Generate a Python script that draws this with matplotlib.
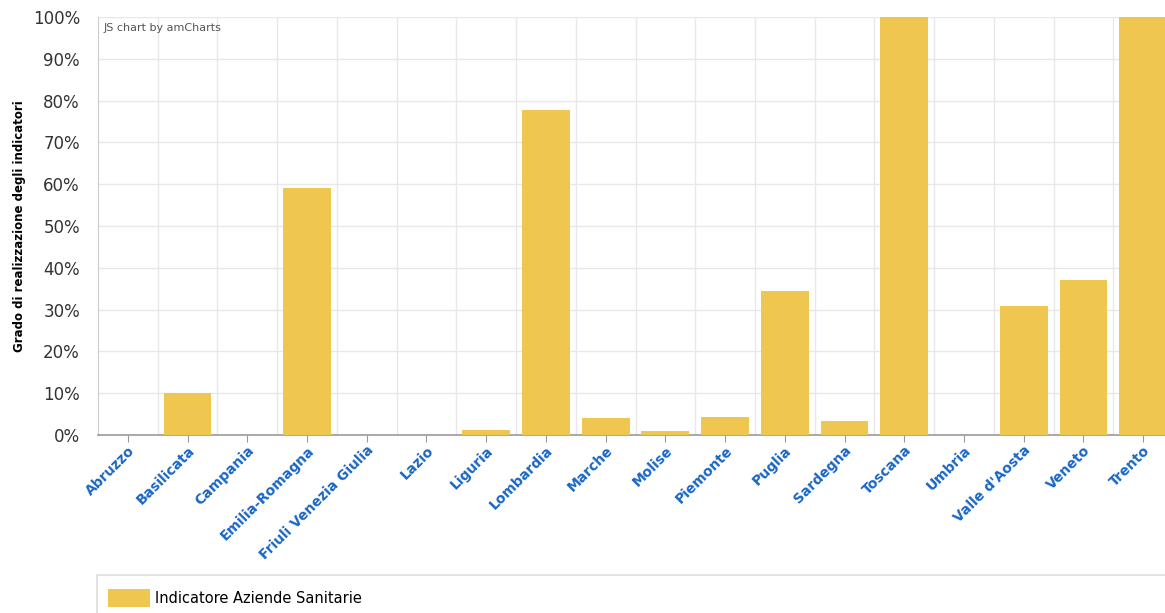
import matplotlib
matplotlib.use("Agg")
import matplotlib.pyplot as plt
from matplotlib.patches import Rectangle
import numpy as np

regions = [
    "Abruzzo", "Basilicata", "Campania", "Emilia-Romagna", "Friuli Venezia Giulia",
    "Lazio", "Liguria", "Lombardia", "Marche", "Molise", "Piemonte", "Puglia",
    "Sardegna", "Toscana", "Umbria", "Valle d'Aosta", "Veneto", "Trento",
]
values = [0, 10.0, 0, 59.1, 0, 0, 1.2, 77.8, 4.1, 1.0, 4.3, 34.4, 3.3, 100, 0, 30.9, 37.1, 100]
y_ticks = list(range(0, 101, 10))
series_name = "Indicatore Aziende Sanitarie"

BAR = "#EEC650"
GRID = "#e8e8e8"
LABEL_BLUE = "#1a66c4"

fig = plt.figure(figsize=(11.65, 6.13), dpi=100)
# plot area runs past the right edge, as in the cropped original
ax = fig.add_axes([98 / 1165, 178 / 613, 1075 / 1165, 418 / 613])

x = np.arange(len(regions))
bars = ax.bar(x, values, width=0.8, color=BAR, label=series_name, zorder=3)

ax.set_xlim(-0.5, len(regions) - 0.5)
ax.set_ylim(0, 100)
ax.set_yticks(y_ticks)
ax.set_yticklabels([f"{v}%" for v in y_ticks], fontsize=12, color="#333333")
ax.tick_params(axis="y", length=0, pad=13)

ax.set_xticks(x)
ax.set_xticklabels(regions, rotation=45, ha="right", rotation_mode="anchor",
                   fontsize=10, fontweight="bold", color=LABEL_BLUE)
ax.tick_params(axis="x", length=5, color="#999999", pad=1)

# grid: horizontal at ticks, vertical at category boundaries
for v in y_ticks[1:]:
    ax.axhline(v, color=GRID, lw=1, zorder=1)
for b in np.arange(0.5, len(regions) - 0.5, 1):
    ax.axvline(b, color=GRID, lw=1, zorder=1)

for side in ("top", "right"):
    ax.spines[side].set_visible(False)
ax.spines["left"].set_color("#cccccc")
ax.spines["bottom"].set_color("#999999")
ax.spines["bottom"].set_linewidth(1.2)

ax.set_ylabel("Grado di realizzazione degli indicatori", fontsize=8.5,
              fontweight="bold", color="#000000", labelpad=5)

ax.text(0.005, 0.985, "JS chart by amCharts", transform=ax.transAxes,
        fontsize=8, color="#555555", ha="left", va="top")

# legend box at the bottom
fig.patches.append(Rectangle((97 / 1165, -0.05), 1.0, (613 - 575) / 613 + 0.05,
                             transform=fig.transFigure, fill=False,
                             edgecolor="#dddddd", lw=1.2))
fig.legend(handles=[bars], labels=[series_name], loc="center left",
           bbox_to_anchor=(108 / 1165, 1 - 598 / 613), frameon=False,
           fontsize=10.5, handlelength=2.9, handleheight=1.5, handletextpad=0.35,
           borderaxespad=0, borderpad=0)

fig.savefig("out.png", dpi=100)
